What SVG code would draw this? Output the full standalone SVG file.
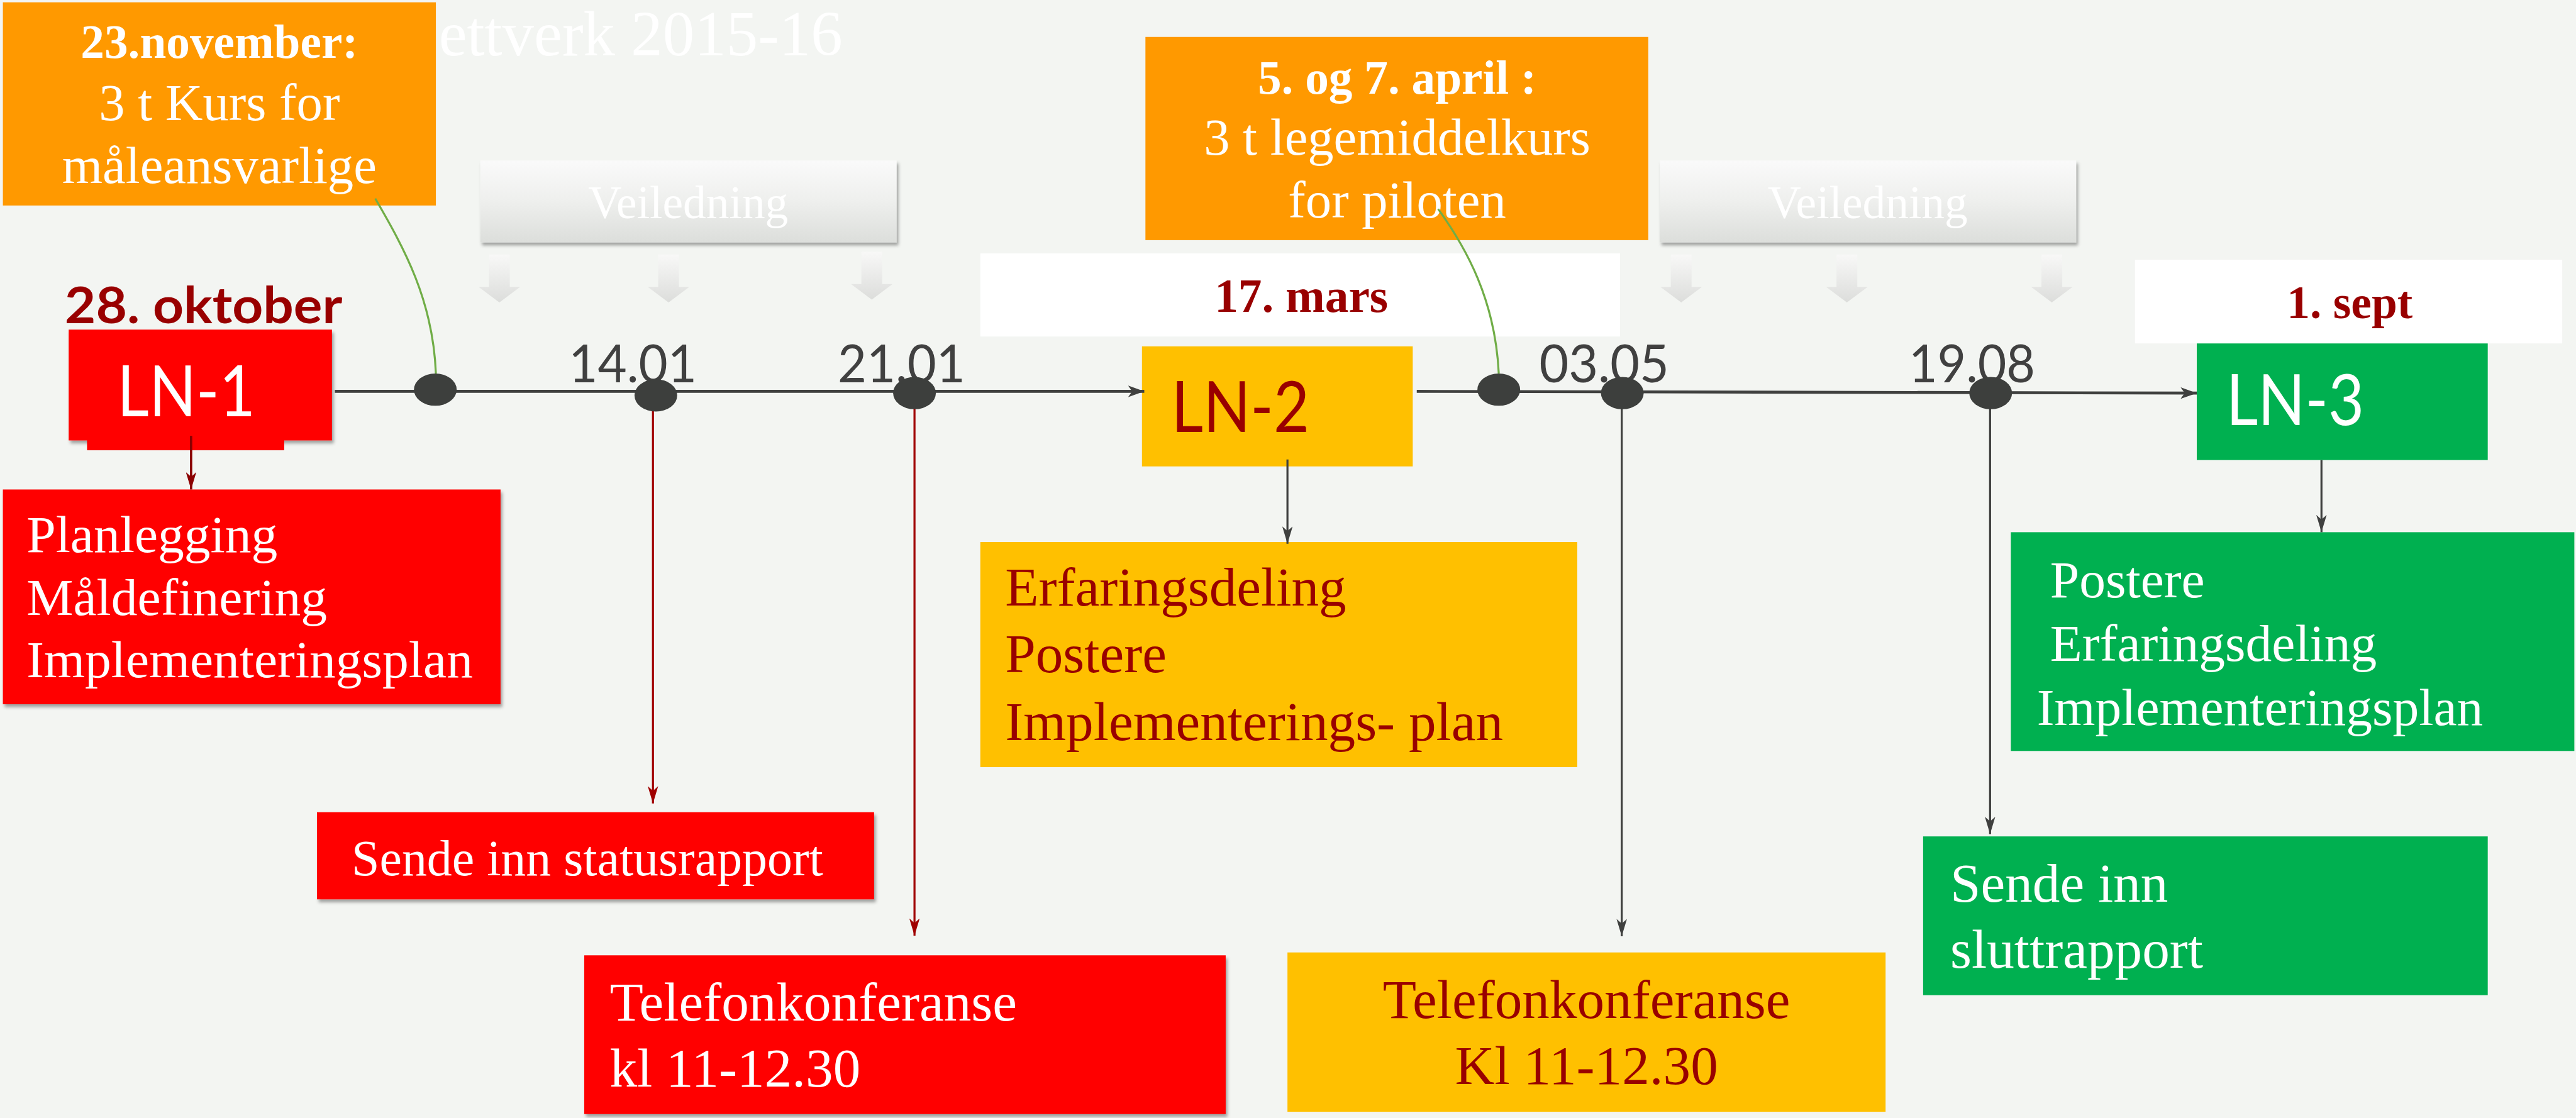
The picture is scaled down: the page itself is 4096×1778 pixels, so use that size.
<svg xmlns="http://www.w3.org/2000/svg" width="4096" height="1778" viewBox="0 0 4096 1778">
<defs>
<style>
.serif{font-family:"Liberation Serif","Times New Roman",serif}
.sans{font-family:Lato,"Liberation Sans",sans-serif}
.w{fill:#ffffff}
.dr{fill:#990000}
.red{fill:#ff0000}
.org{fill:#ff9900}
.yel{fill:#ffc000}
.grn{fill:#00b050}
.wb{fill:#ffffff}
.dot{fill:#3d3f3d}
.tl{stroke:#3f403f;stroke-width:5;fill:none}
.cg{stroke:#3f403f;stroke-width:3.5;fill:none}
.cr{stroke:#a00000;stroke-width:3.5;fill:none}
.cd{stroke:#8b0000;stroke-width:4;fill:none}
.gc{stroke:#70ad47;stroke-width:3.5;fill:none}
.lbl{font-size:90px;fill:#404040}
.ln{font-size:122px}
.b82{font-size:82px;font-weight:bold}
.t80{font-size:80px}
.t90{font-size:90px}
.t91{font-size:91px}
.t95{font-size:95px}
.ctr{text-anchor:middle}
</style>
<linearGradient id="vg" x1="0" y1="0" x2="0" y2="1">
<stop offset="0" stop-color="#fafafa"/>
<stop offset="0.5" stop-color="#eeefed"/>
<stop offset="1" stop-color="#dcdedb"/>
</linearGradient>
<linearGradient id="ag" x1="0" y1="0" x2="0" y2="1">
<stop offset="0" stop-color="#f8f8f7"/>
<stop offset="1" stop-color="#dcdddb"/>
</linearGradient>
<filter id="sh" x="-5%" y="-5%" width="115%" height="130%">
<feDropShadow dx="3" dy="5" stdDeviation="3" flood-color="#000" flood-opacity="0.35"/>
</filter>
<marker id="mg" markerUnits="userSpaceOnUse" markerWidth="30" markerHeight="18" refX="30" refY="9" orient="auto">
<path d="M0,0 L30,9 L0,18 L8,9 z" fill="#3f403f"/>
</marker>
<marker id="mr" markerUnits="userSpaceOnUse" markerWidth="30" markerHeight="18" refX="30" refY="9" orient="auto">
<path d="M0,0 L30,9 L0,18 L8,9 z" fill="#a00000"/>
</marker>
<marker id="md" markerUnits="userSpaceOnUse" markerWidth="30" markerHeight="18" refX="30" refY="9" orient="auto">
<path d="M0,0 L30,9 L0,18 L8,9 z" fill="#8b0000"/>
</marker>
<marker id="mt" markerUnits="userSpaceOnUse" markerWidth="28" markerHeight="20" refX="28" refY="10" orient="auto">
<path d="M0,0 L28,10 L0,20 L7,10 z" fill="#3f403f"/>
</marker>
</defs>
<rect width="4096" height="1778" fill="#f3f5f2"/>
<g transform="scale(0.918)">

<g id="title">
<text class="serif w" x="760" y="96" font-size="110">ettverk 2015-16</text>
</g>

<g id="veiledning1">
<rect x="832" y="278" width="721" height="142" fill="url(#vg)" filter="url(#sh)"/>
<text class="serif w t80 ctr" x="1192" y="378">Veiledning</text>
<polygon points="847,441 883,441 883,497 901,497 865,524 829,497 847,497" fill="url(#ag)"/>
<polygon points="1140,441 1176,441 1176,497 1194,497 1158,524 1122,497 1140,497" fill="url(#ag)"/>
<polygon points="1492,436 1528,436 1528,492 1546,492 1510,519 1474,492 1492,492" fill="url(#ag)"/>
</g>

<g id="veiledning2">
<rect x="2875" y="278" width="721" height="142" fill="url(#vg)" filter="url(#sh)"/>
<text class="serif w t80 ctr" x="3235" y="378">Veiledning</text>
<polygon points="2894,441 2930,441 2930,497 2948,497 2912,524 2876,497 2894,497" fill="url(#ag)"/>
<polygon points="3181,441 3217,441 3217,497 3235,497 3199,524 3163,497 3181,497" fill="url(#ag)"/>
<polygon points="3536,441 3572,441 3572,497 3590,497 3554,524 3518,497 3536,497" fill="url(#ag)"/>
</g>

<g id="kurs1">
<rect class="org" x="5" y="4" width="750" height="352"/>
<text class="serif w b82 ctr" x="380" y="100">23.november:</text>
<text class="serif w t90 ctr" x="380" y="208">3 t Kurs for</text>
<text class="serif w t90 ctr" x="380" y="317">måleansvarlige</text>
</g>

<g id="kurs2">
<rect class="org" x="1984" y="64" width="871" height="352"/>
<text class="serif w b82 ctr" x="2420" y="162">5. og 7. april :</text>
<text class="serif w t90 ctr" x="2420" y="268">3 t legemiddelkurs</text>
<text class="serif w t90 ctr" x="2420" y="377">for piloten</text>
</g>

<g id="date-mars">
<rect class="wb" x="1698" y="439" width="1108" height="144"/>
<text class="serif dr b82 ctr" x="2254" y="540">17. mars</text>
</g>

<g id="date-sept">
<rect class="wb" x="3698" y="450" width="740" height="145"/>
<text class="serif dr ctr" x="4070" y="551" font-size="80" font-weight="bold">1. sept</text>
</g>

<g id="date-okt">
<text class="sans dr" x="112" y="560" font-size="88" font-weight="bold" textLength="481" lengthAdjust="spacingAndGlyphs">28. oktober</text>
</g>

<g id="ln1">
<rect class="red" x="151" y="600" width="341" height="180"/>
<rect class="red" x="119" y="571" width="456" height="192" filter="url(#sh)"/>
<rect class="red" x="151" y="700" width="341" height="80"/>
<text class="sans w ln" x="203" y="721" textLength="239" lengthAdjust="spacingAndGlyphs">LN-1</text>
</g>

<g id="ln2">
<rect class="yel" x="1978" y="600" width="469" height="208"/>
<text class="sans dr ln" x="2029" y="748" textLength="239" lengthAdjust="spacingAndGlyphs">LN-2</text>
</g>

<g id="ln3">
<rect class="grn" x="3805" y="595" width="504" height="202"/>
<text class="sans w ln" x="3856" y="736" textLength="239" lengthAdjust="spacingAndGlyphs">LN-3</text>
</g>

<g id="planlegging">
<rect class="red" x="5" y="848" width="862" height="372" filter="url(#sh)"/>
<text class="serif w t91" x="46" y="956">Planlegging</text>
<text class="serif w t91" x="46" y="1065">Måldefinering</text>
<text class="serif w t91" x="46" y="1173">Implementeringsplan</text>
</g>

<g id="statusrapport">
<rect class="red" x="549" y="1407" width="965" height="151" filter="url(#sh)"/>
<text class="serif w" x="609" y="1516" font-size="87">Sende inn statusrapport</text>
</g>

<g id="telefon1">
<rect class="red" x="1012" y="1655" width="1111" height="275" filter="url(#sh)"/>
<text class="serif w t95" x="1056" y="1768">Telefonkonferanse</text>
<text class="serif w t95" x="1056" y="1882">kl 11-12.30</text>
</g>

<g id="erfaring">
<rect class="yel" x="1698" y="939" width="1034" height="390"/>
<text class="serif dr t95" x="1741" y="1049">Erfaringsdeling</text>
<text class="serif dr t95" x="1741" y="1165">Postere</text>
<text class="serif dr t95" x="1741" y="1282">Implementerings- plan</text>
</g>

<g id="telefon2">
<rect class="yel" x="2230" y="1650" width="1036" height="276"/>
<text class="serif dr t95 ctr" x="2748" y="1764">Telefonkonferanse</text>
<text class="serif dr t95 ctr" x="2748" y="1878">Kl 11-12.30</text>
</g>

<g id="postere">
<rect class="grn" x="3483" y="922" width="976" height="379"/>
<text class="serif w t91" x="3551" y="1035">Postere</text>
<text class="serif w t91" x="3551" y="1145">Erfaringsdeling</text>
<text class="serif w t91" x="3528" y="1256">Implementeringsplan</text>
</g>

<g id="sluttrapport">
<rect class="grn" x="3331" y="1449" width="978" height="275"/>
<text class="serif w t95" x="3378" y="1562">Sende inn</text>
<text class="serif w t95" x="3378" y="1677">sluttrapport</text>
</g>

<g id="milestone-labels">
<text class="sans lbl" x="985" y="662" textLength="222" lengthAdjust="spacingAndGlyphs">14.01</text>
<text class="sans lbl" x="1451" y="662" textLength="221" lengthAdjust="spacingAndGlyphs">21.01</text>
<text class="sans lbl" x="2666" y="662" textLength="225" lengthAdjust="spacingAndGlyphs">03.05</text>
<text class="sans lbl" x="3306" y="662" textLength="219" lengthAdjust="spacingAndGlyphs">19.08</text>
</g>

<g id="connectors">
<path class="tl" d="M580,678 L1982,678" marker-end="url(#mt)"/>
<path class="tl" d="M2454,678 L3805,681" marker-end="url(#mt)"/>
<path class="cd" d="M331,755 L331,848" marker-end="url(#md)"/>
<path class="cr" d="M1131,700 L1131,1392" marker-end="url(#mr)"/>
<path class="cr" d="M1584,700 L1584,1621" marker-end="url(#mr)"/>
<path class="cg" d="M2230,796 L2230,942" marker-end="url(#mg)"/>
<path class="cg" d="M2809,700 L2809,1622" marker-end="url(#mg)"/>
<path class="cg" d="M3447,700 L3447,1445" marker-end="url(#mg)"/>
<path class="cg" d="M4021,797 L4021,922" marker-end="url(#mg)"/>
<path class="gc" d="M650,344 C700,430 750,520 755,647"/>
<path class="gc" d="M2491,362 C2540,430 2590,520 2596,647"/>
<ellipse class="dot" cx="754" cy="675" rx="37" ry="28"/>
<ellipse class="dot" cx="1136" cy="685" rx="37" ry="28"/>
<ellipse class="dot" cx="1584" cy="681" rx="37" ry="28"/>
<ellipse class="dot" cx="2596" cy="675" rx="37" ry="28"/>
<ellipse class="dot" cx="2810" cy="681" rx="37" ry="28"/>
<ellipse class="dot" cx="3448" cy="681" rx="37" ry="28"/>
</g>

</g>
</svg>
